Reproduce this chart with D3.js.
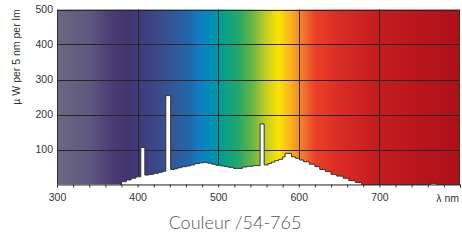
<!DOCTYPE html>
<html>
<head>
<meta charset="utf-8">
<script src="https://cdn.jsdelivr.net/npm/d3@7"></script>
<style>
  body { margin: 0; background: #fff; }
  text { font-family: "Liberation Sans", Arial, sans-serif; }
</style>
</head>
<body>
<div id="chart"></div>
<script>
// spectrum steps: wavelength (nm) where each step begins, and its value (uW per 5 nm per lm)
var wavelengths = [378, 380, 386, 392, 398, 404, 409, 414, 420, 426, 431, 435, 441, 446, 450, 455, 461, 466, 471, 477, 482, 487,
                   492, 497, 503, 508, 513, 519, 524, 530, 536, 543, 552, 557, 562, 566, 570, 575, 580, 583, 591, 596,
                   601, 606, 613, 620, 626, 633, 640, 647, 655, 662, 670, 678, 764, 766, 771, 800];
var values =      [0, 8, 13, 18, 22, 106, 27, 29, 32, 35, 38, 254, 43, 45, 48, 51, 53, 56, 60, 62, 63, 61,
                   58, 55, 53, 51, 49, 46, 46, 50, 52, 54, 173, 56, 60, 64, 68, 72, 79, 89, 79, 75,
                   70, 65, 58, 51, 43, 37, 29, 24, 18, 11, 6, 0, 3, 3, 0, 0];

var xTicks = d3.range(300, 801, 20);
var xLabels = [300, 400, 500, 600, 700];
var yLabels = [100, 200, 300, 400, 500];
var xGrid = [400, 500, 600, 700];

// background colour of the visible spectrum
var specNm =    [300, 340, 370, 385, 410, 440, 465, 480, 495, 505, 525, 545, 560, 575, 590, 605, 620, 650, 700, 800];
var specColor = ["#6a6781", "#5e5880", "#4b3a74", "#45336f", "#3d3f80", "#355494", "#2068ac", "#0a82c6", "#0093b0", "#00a090",
                 "#22a86a", "#74b83e", "#c6cf22", "#fde300", "#f8b11e", "#f27a2a", "#ec4128", "#da2c24", "#c41c1e", "#ad101a"];

var W = 462, H = 242;
var svg = d3.select("#chart").append("svg").attr("width", W).attr("height", H);

var x = d3.scaleLinear().domain([300, 800]).range([57, 460]);
var y = d3.scaleLinear().domain([0, 500]).range([184.5, 9.5]);

// gradient
var grad = svg.append("defs").append("linearGradient")
    .attr("id", "spec").attr("gradientUnits", "userSpaceOnUse")
    .attr("x1", x(300)).attr("x2", x(800)).attr("y1", 0).attr("y2", 0);
grad.selectAll("stop").data(specNm).enter().append("stop")
    .attr("offset", function (d) { return (d - 300) / 500; })
    .attr("stop-color", function (d, i) { return specColor[i]; });

svg.append("rect")
    .attr("x", x(300)).attr("y", y(500))
    .attr("width", x(800) - x(300)).attr("height", y(0) - y(500))
    .attr("fill", "url(#spec)");

// grid
svg.selectAll(".hg").data(yLabels).enter().append("line")
    .attr("x1", x(300)).attr("x2", x(800))
    .attr("y1", function (d) { return Math.round(y(d)) + 0.5; })
    .attr("y2", function (d) { return Math.round(y(d)) + 0.5; })
    .attr("stroke", "#262626").attr("stroke-width", 1);
svg.selectAll(".vg").data(xGrid).enter().append("line")
    .attr("x1", function (d) { return Math.round(x(d)) + 0.5; })
    .attr("x2", function (d) { return Math.round(x(d)) + 0.5; })
    .attr("y1", y(500)).attr("y2", y(0))
    .attr("stroke", "#262626").attr("stroke-width", 1);

// spectrum
var pts = wavelengths.map(function (w, i) { return [w, values[i]]; });
var area = d3.area()
    .x(function (d) { return x(d[0]); })
    .y0(y(0))
    .y1(function (d) { return y(d[1]); })
    .curve(d3.curveStepAfter);
var line = d3.line()
    .x(function (d) { return x(d[0]); })
    .y(function (d) { return y(d[1]); })
    .curve(d3.curveStepAfter);
svg.append("path").datum(pts).attr("d", area).attr("fill", "#fff");
svg.append("path").datum(pts).attr("d", line)
    .attr("fill", "none").attr("stroke", "#333").attr("stroke-width", 1);

// frame
svg.append("line").attr("x1", x(300) + 0.5).attr("x2", x(300) + 0.5).attr("y1", y(500)).attr("y2", y(0))
    .attr("stroke", "#333");
svg.append("line").attr("x1", x(800) - 0.5).attr("x2", x(800) - 0.5).attr("y1", y(500)).attr("y2", y(0))
    .attr("stroke", "#333");

// x axis
var xAxis = d3.axisBottom(x).tickValues(xTicks).tickSize(3).tickPadding(6)
    .tickFormat(function (d) { return xLabels.indexOf(d) >= 0 ? d : ""; });
var gx = svg.append("g").attr("transform", "translate(0," + y(0) + ")").call(xAxis);
gx.select(".domain").attr("stroke", "#333");
gx.selectAll(".tick line").attr("stroke", "#333");
gx.selectAll("text").attr("font-size", "10.5px").attr("fill", "#333")
    .attr("font-family", "Liberation Sans, Arial, sans-serif");

svg.append("text").attr("x", 459).attr("y", 201.5).attr("text-anchor", "end")
    .attr("font-size", "10.5px").attr("fill", "#333").text("λ nm");

// y axis labels
var yAxis = d3.axisLeft(y).tickValues(yLabels).tickSize(0).tickPadding(4);
var gy = svg.append("g").attr("transform", "translate(" + x(300) + ",0)").call(yAxis);
gy.select(".domain").remove();
gy.selectAll("text").attr("font-size", "10.5px").attr("fill", "#333")
    .attr("font-family", "Liberation Sans, Arial, sans-serif");

svg.append("text")
    .attr("transform", "translate(19.5,57) rotate(-90)")
    .attr("text-anchor", "middle")
    .attr("font-size", "10.5px").attr("fill", "#333")
    .text("µ W per 5 nm per lm");

// caption
svg.append("text")
    .attr("x", 235).attr("y", 229)
    .attr("text-anchor", "middle")
    .style("font-family", "Lato, 'Open Sans', sans-serif")
    .style("font-weight", 300)
    .attr("font-size", "18px").attr("fill", "#555")
    .text("Couleur /54-765");
</script>
</body>
</html>
